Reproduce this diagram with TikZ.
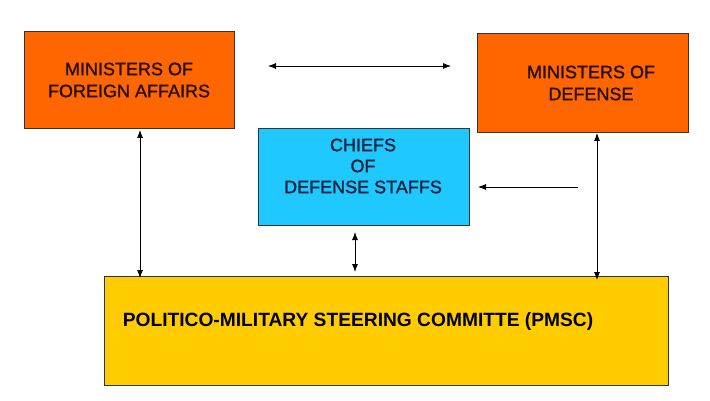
\documentclass[tikz,border=0pt]{standalone}
\usepackage{fontspec}
\setmainfont{Liberation Sans}[FakeBold=1.5]
\newfontfamily\boldfam{Liberation Sans Bold}
\usetikzlibrary{arrows.meta}
\definecolor{orangebox}{HTML}{FF6600}
\definecolor{cyanbox}{HTML}{1FC8FF}
\definecolor{yellowbox}{HTML}{FFCC00}
\definecolor{navytext}{HTML}{1A2440}
\definecolor{darktext}{HTML}{2A1008}
\tikzset{
  box/.style={draw=black!80, line width=0.8pt, inner sep=0pt, align=center},
  conn/.style={line width=0.8pt, {Latex[length=8pt,width=6pt]}-{Latex[length=8pt,width=6pt]}},
  oneway/.style={line width=0.8pt, -{Latex[length=8pt,width=6pt]}},
  lbl/.style={align=center, inner sep=0pt}
}
\begin{document}
\begin{tikzpicture}[x=1pt,y=-1pt]
\useasboundingbox[fill=white] (0,0) rectangle (710,401);
\node[box, fill=orangebox, minimum width=210pt, minimum height=97pt] (mfa) at (129,79.5) {};
\node[lbl, text=darktext, font=\fontsize{18}{22}\selectfont] (mfat) at (129,80) {MINISTERS OF\\FOREIGN AFFAIRS};
\node[box, fill=orangebox, minimum width=211pt, minimum height=99pt] (md) at (582.5,82.5) {};
\node[lbl, text=darktext, font=\fontsize{18}{22}\selectfont] (mdt) at (591,83) {MINISTERS OF\\DEFENSE};
\node[box, fill=cyanbox, minimum width=211pt, minimum height=97pt] (cds) at (363.5,176.5) {};
\node[lbl, text=navytext, font=\fontsize{18}{21}\selectfont] (cdst) at (363,166) {CHIEFS\\OF\\DEFENSE STAFFS};
\node[box, fill=yellowbox, minimum width=564pt, minimum height=109pt] (pmsc) at (386,330.5) {};
\node[lbl, font=\boldfam\fontsize{19.2}{22}\selectfont] (pmsct) at (358,322) {POLITICO-MILITARY STEERING COMMITTE (PMSC)};
\coordinate (h1) at (268,66);
\coordinate (h2) at (451,66);
\draw[conn] (h1) -- (h2);
\coordinate (fa1) at (140,130);
\coordinate (fa2) at (140,278);
\draw[conn] (fa1) -- (fa2);
\coordinate (d1) at (597,133);
\coordinate (d2) at (597,280);
\draw[conn] (d1) -- (d2);
\coordinate (c1) at (355,232);
\coordinate (c2) at (355,272);
\draw[conn] (c1) -- (c2);
\coordinate (r1) at (578,187);
\coordinate (r2) at (478,187);
\draw[oneway] (r1) -- (r2);
\end{tikzpicture}
\end{document}
